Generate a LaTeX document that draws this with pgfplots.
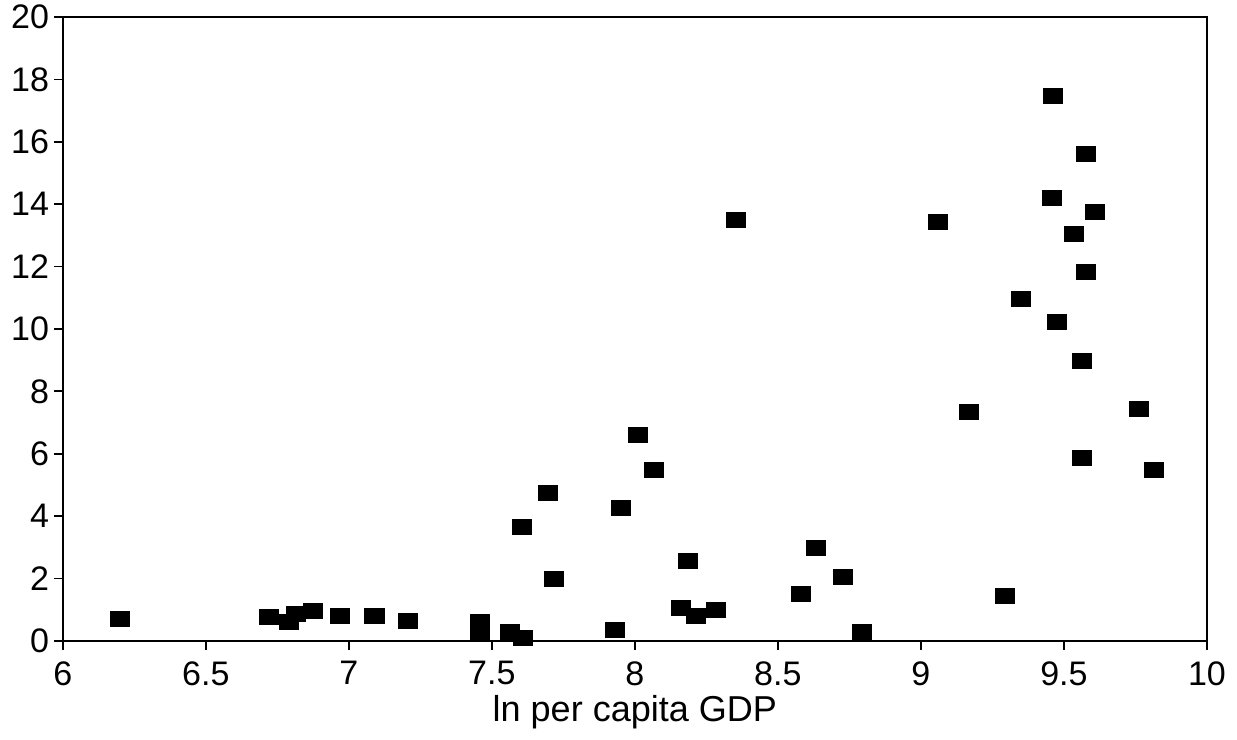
\documentclass[border=0pt]{standalone}
\usepackage{fontspec}
\setmainfont{Liberation Sans}
\usepackage{pgfplots}
\pgfplotsset{compat=1.18}
\begin{document}
\begin{tikzpicture}
\begin{axis}[
  scale only axis,
  width=343pt, height=187pt,
  xmin=6, xmax=10, ymin=0, ymax=20,
  xtick={6,6.5,...,10}, ytick={0,2,...,20},
  xticklabels={6,6.5,7,7.5,8,8.5,9,9.5,10},
  yticklabels={0,2,4,6,8,10,12,14,16,18,20},
  tick align=outside, xtick pos=bottom, ytick pos=left,
  major tick length=2.6pt,
  axis line style={line width=0.6pt},
  tick style={line width=0.5pt, black},
  xlabel={ln per capita GDP},
  xlabel style={yshift=4pt},
  yticklabel style={xshift=2pt, inner ysep=1.5pt},
  clip=false,
  tick label style={font=\fontsize{10.2}{12}\selectfont},
  label style={font=\fontsize{10.8}{12}\selectfont},
]
\addplot[only marks, mark=square*, mark size=2.2pt, mark options={xscale=1.28, fill=black, draw=black}] coordinates {
(6.20,0.71)
(6.72,0.77)
(6.79,0.61)
(6.815,0.87)
(6.874,0.96)
(6.969,0.80)
(7.09,0.80)
(7.206,0.64)
(7.46,0.62)
(7.46,0.30)
(7.563,0.28)
(7.61,0.10)
(7.605,3.66)
(7.696,4.75)
(7.717,1.99)
(7.93,0.35)
(7.951,4.27)
(8.01,6.61)
(8.066,5.49)
(8.16,1.06)
(8.185,2.57)
(8.213,0.80)
(8.283,1.00)
(8.353,13.48)
(8.58,1.51)
(8.633,2.99)
(8.727,2.05)
(8.794,0.28)
(9.059,13.42)
(9.168,7.35)
(9.294,1.44)
(9.35,10.95)
(9.462,17.46)
(9.577,15.60)
(9.458,14.19)
(9.608,13.74)
(9.535,13.03)
(9.577,11.81)
(9.476,10.21)
(9.563,8.96)
(9.762,7.42)
(9.563,5.87)
(9.815,5.49)
};
\end{axis}
\end{tikzpicture}
\end{document}
